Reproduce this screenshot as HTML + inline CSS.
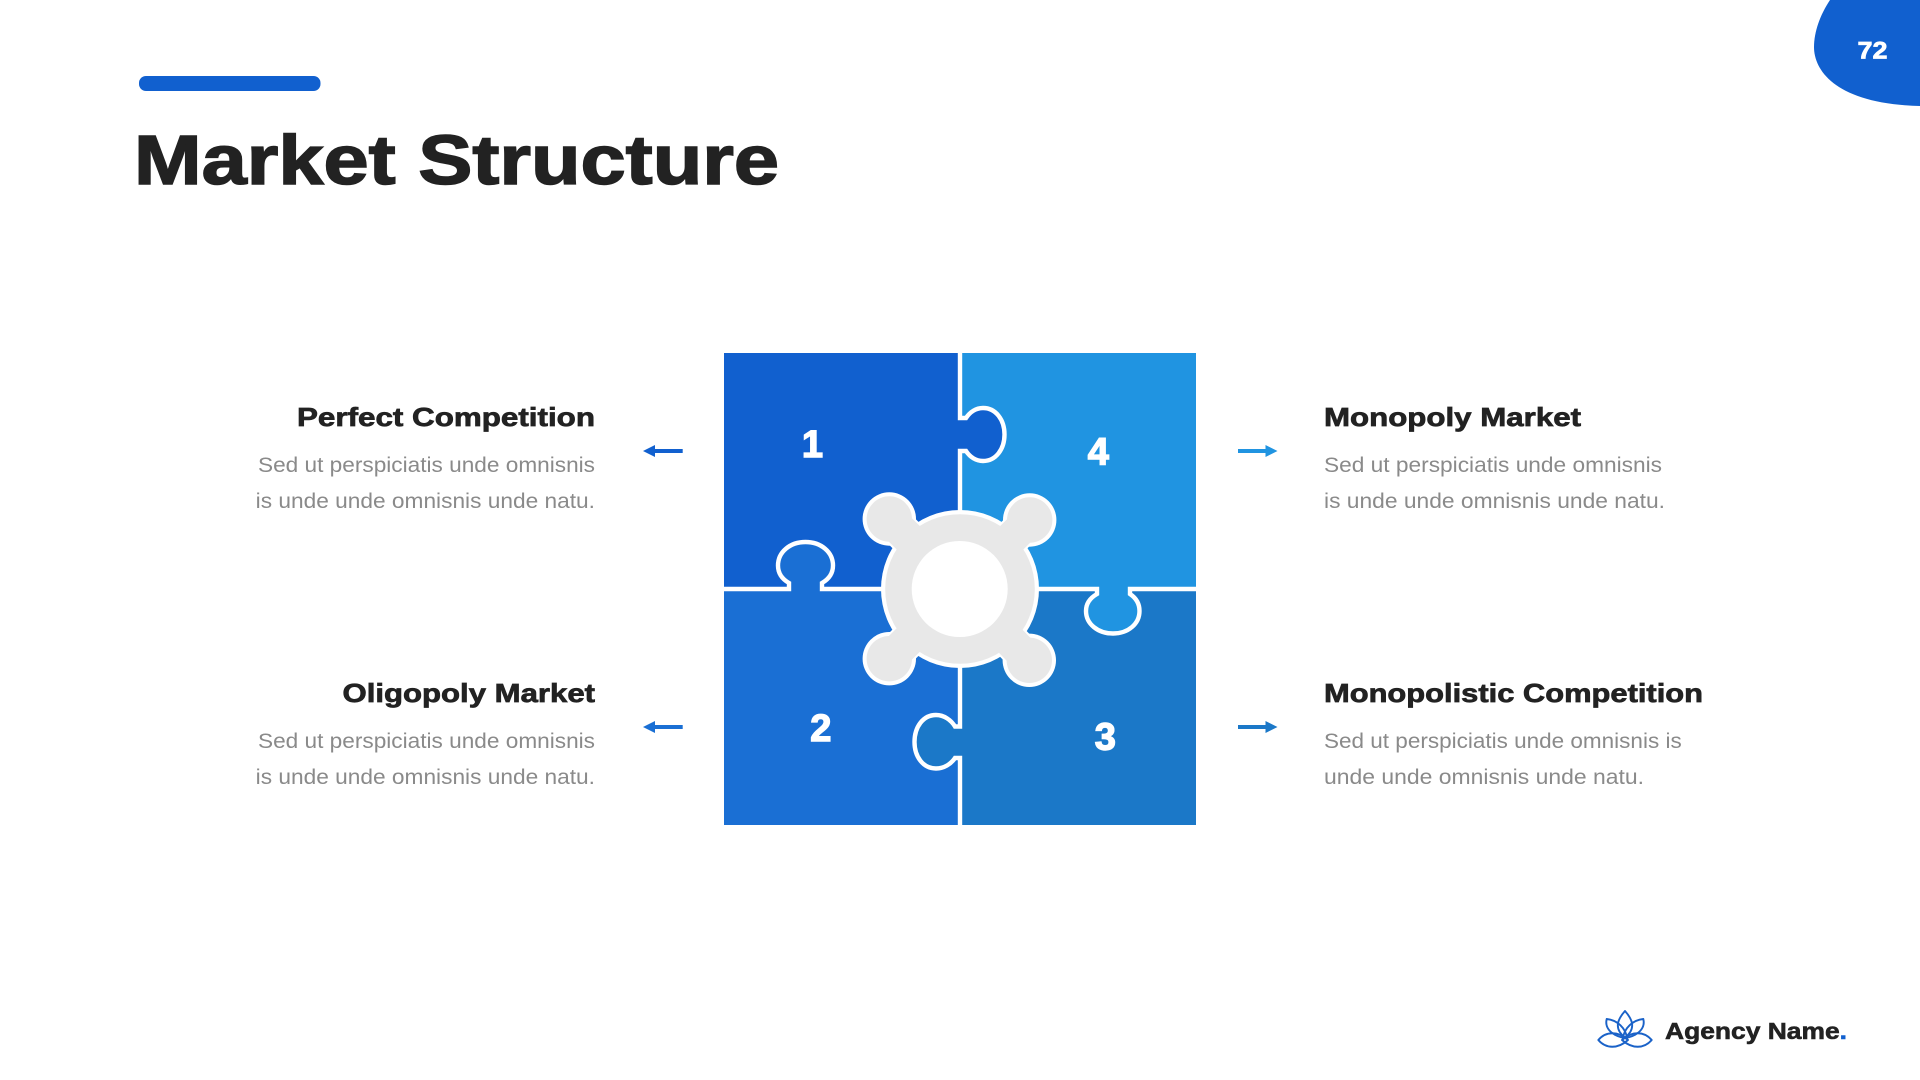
<!DOCTYPE html>
<html lang="en">
<head>
<meta charset="utf-8">
<title>Market Structure</title>
<style>
html,body{margin:0;padding:0;background:#fff;width:1920px;height:1080px;overflow:hidden}
svg{display:block}
text{font-family:"Liberation Sans",sans-serif}
.h{font-weight:700;font-size:26px;fill:#222;stroke:#222;stroke-width:.7px}
.b{font-size:21px;fill:#8a8a8a}
.n{font-weight:700;font-size:38px;fill:#fff;stroke:#fff;stroke-width:1.4px}
</style>
</head>
<body>
<svg width="1920" height="1080" viewBox="0 0 1920 1080" xmlns="http://www.w3.org/2000/svg">
<rect width="1920" height="1080" fill="#fff"/>

<!-- page tab -->
<path d="M1830 0C1820 15 1814 32 1814 47C1814 72 1838 104 1920 106V0Z" fill="#1160cf"/>
<text x="1857.5" y="58.3" font-size="24" font-weight="700" fill="#fff" stroke="#fff" stroke-width=".7" textLength="30" lengthAdjust="spacingAndGlyphs">72</text>

<!-- title -->
<rect x="139" y="76" width="181.500" height="15" rx="7" fill="#1160cf"/>
<text x="134" y="184" font-size="70" font-weight="700" fill="#222" stroke="#222" stroke-width="1.500" textLength="645" lengthAdjust="spacingAndGlyphs">Market Structure</text>

<!-- puzzle blocks -->
<rect x="724" y="353" width="236" height="236" fill="#1160cf"/>
<rect x="960" y="353" width="236" height="236" fill="#2094e1"/>
<rect x="724" y="589" width="236" height="236" fill="#1a6fd4"/>
<rect x="960" y="589" width="236" height="236" fill="#1b78c8"/>

<!-- tab fills -->
<path d="M958 418H966C970 412 976 408 983 408C996 408 1004.500 420 1004.500 434.500C1004.500 449 996 461 983 461C976 461 970 457 966 451H958Z" fill="#1160cf"/>
<path d="M1097 587V594C1090 598 1086 604 1086 611C1086 624 1098 633.500 1113 633.500C1128 633.500 1139.500 624 1139.500 611C1139.500 604 1136 598 1130 594V587Z" fill="#2094e1"/>
<path d="M789 591V583C782 579 778 573 778 565.500C778 552 790 542 805.500 542C821 542 833 552 833 565.500C833 573 829 579 822 583V591Z" fill="#1a6fd4"/>
<path d="M962 726.500H955C951 720 944 715 936 715C923 715 914.500 727 914.500 742C914.500 756.500 923 768.500 936 768.500C944 768.500 951 764 955 758H962Z" fill="#1b78c8"/>

<!-- seams -->
<g fill="none" stroke="#fff" stroke-width="4.400">
<path d="M960 350V418H966C970 412 976 408 983 408C996 408 1004.500 420 1004.500 434.500C1004.500 449 996 461 983 461C976 461 970 457 966 451H960V589"/>
<path d="M960 589H1097V594C1090 598 1086 604 1086 611C1086 624 1098 633.500 1113 633.500C1128 633.500 1139.500 624 1139.500 611C1139.500 604 1136 598 1130 594V589H1199"/>
<path d="M721 589H789V583C782 579 778 573 778 565.500C778 552 790 542 805.500 542C821 542 833 552 833 565.500C833 573 829 579 822 583V589H960"/>
<path d="M960 589V726.500H955C951 720 944 715 936 715C923 715 914.500 727 914.500 742C914.500 756.500 923 768.500 936 768.500C944 768.500 951 764 955 758H960V828"/>
</g>

<!-- centre hub: white outline -->
<g fill="#fff" stroke="#fff">
<circle cx="960" cy="589" r="79" stroke="none"/>
<circle cx="889.300" cy="519" r="26.700" stroke="none"/>
<circle cx="1029.700" cy="520" r="26.700" stroke="none"/>
<circle cx="889.300" cy="658.700" r="26.700" stroke="none"/>
<circle cx="1029.300" cy="660.300" r="26.700" stroke="none"/>
<path d="M960 589L889.300 519M960 589L1029.700 520M960 589L889.300 658.700M960 589L1029.300 660.300" stroke-width="37" fill="none"/>
</g>
<!-- centre hub: grey body -->
<g fill="#e8e8e8" stroke="#e8e8e8">
<circle cx="960" cy="589" r="74.800" stroke="none"/>
<circle cx="889.300" cy="519" r="22.700" stroke="none"/>
<circle cx="1029.700" cy="520" r="22.700" stroke="none"/>
<circle cx="889.300" cy="658.700" r="22.700" stroke="none"/>
<circle cx="1029.300" cy="660.300" r="22.700" stroke="none"/>
<path d="M960 589L889.300 519M960 589L1029.700 520M960 589L889.300 658.700M960 589L1029.300 660.300" stroke-width="33" fill="none"/>
</g>
<circle cx="959.700" cy="589" r="48" fill="#fff"/>

<!-- numbers -->
<text class="n" x="812.500" y="457" text-anchor="middle">1</text>
<text class="n" x="1098.300" y="464.500" text-anchor="middle">4</text>
<text class="n" x="820.800" y="741" text-anchor="middle">2</text>
<text class="n" x="1105.300" y="749.500" text-anchor="middle">3</text>

<!-- arrows -->
<g>
<path d="M682.700 449V453H655V457L643 451L655 445V449Z" fill="#1160cf"/>
<path d="M682.700 725V729H655V733L643 727L655 721V725Z" fill="#1a6fd4"/>
<path d="M1238 449V453H1265.500V457L1277.500 451L1265.500 445V449Z" fill="#2094e1"/>
<path d="M1238 725V729H1265.500V733L1277.500 727L1265.500 721V725Z" fill="#1b78c8"/>
</g>

<!-- left text -->
<text class="h" x="297" y="426" textLength="298" lengthAdjust="spacingAndGlyphs">Perfect Competition</text>
<text class="b" x="258" y="472" textLength="337" lengthAdjust="spacingAndGlyphs">Sed ut perspiciatis unde omnisnis</text>
<text class="b" x="255.700" y="508" textLength="339.300" lengthAdjust="spacingAndGlyphs">is unde unde omnisnis unde natu.</text>

<text class="h" x="342.500" y="702" textLength="252.500" lengthAdjust="spacingAndGlyphs">Oligopoly Market</text>
<text class="b" x="258" y="748" textLength="337" lengthAdjust="spacingAndGlyphs">Sed ut perspiciatis unde omnisnis</text>
<text class="b" x="255.700" y="784" textLength="339.300" lengthAdjust="spacingAndGlyphs">is unde unde omnisnis unde natu.</text>

<!-- right text -->
<text class="h" x="1324" y="426" textLength="257" lengthAdjust="spacingAndGlyphs">Monopoly Market</text>
<text class="b" x="1324" y="472" textLength="338" lengthAdjust="spacingAndGlyphs">Sed ut perspiciatis unde omnisnis</text>
<text class="b" x="1324" y="508" textLength="341" lengthAdjust="spacingAndGlyphs">is unde unde omnisnis unde natu.</text>

<text class="h" x="1324" y="702" textLength="379" lengthAdjust="spacingAndGlyphs">Monopolistic Competition</text>
<text class="b" x="1324" y="748" textLength="357.700" lengthAdjust="spacingAndGlyphs">Sed ut perspiciatis unde omnisnis is</text>
<text class="b" x="1324" y="784" textLength="320" lengthAdjust="spacingAndGlyphs">unde unde omnisnis unde natu.</text>

<!-- logo -->
<g fill="none" stroke="#1a62c8" stroke-width="1.900" stroke-linejoin="round">
<path d="M1625 1011C1617 1020 1614 1029 1625 1037.500C1636 1029 1633 1020 1625 1011Z"/>
<path d="M1606.700 1019C1617 1020 1626 1028 1627 1038.500C1615 1037 1604 1030 1606.700 1019Z"/>
<path d="M1643.300 1019C1633 1020 1624 1028 1623 1038.500C1635 1037 1646 1030 1643.300 1019Z"/>
<path d="M1598.300 1040C1606 1031 1618 1031 1628 1040C1618 1049 1606 1049 1598.300 1040Z"/>
<path d="M1651.700 1040C1644 1031 1632 1031 1622 1040C1632 1049 1644 1049 1651.700 1040Z"/>
</g>
<text x="1665" y="1039" font-size="23.500" font-weight="700" fill="#222" stroke="#222" stroke-width=".6" textLength="182" lengthAdjust="spacingAndGlyphs">Agency Name<tspan fill="#1160cf" stroke="#1160cf">.</tspan></text>
</svg>
</body>
</html>
